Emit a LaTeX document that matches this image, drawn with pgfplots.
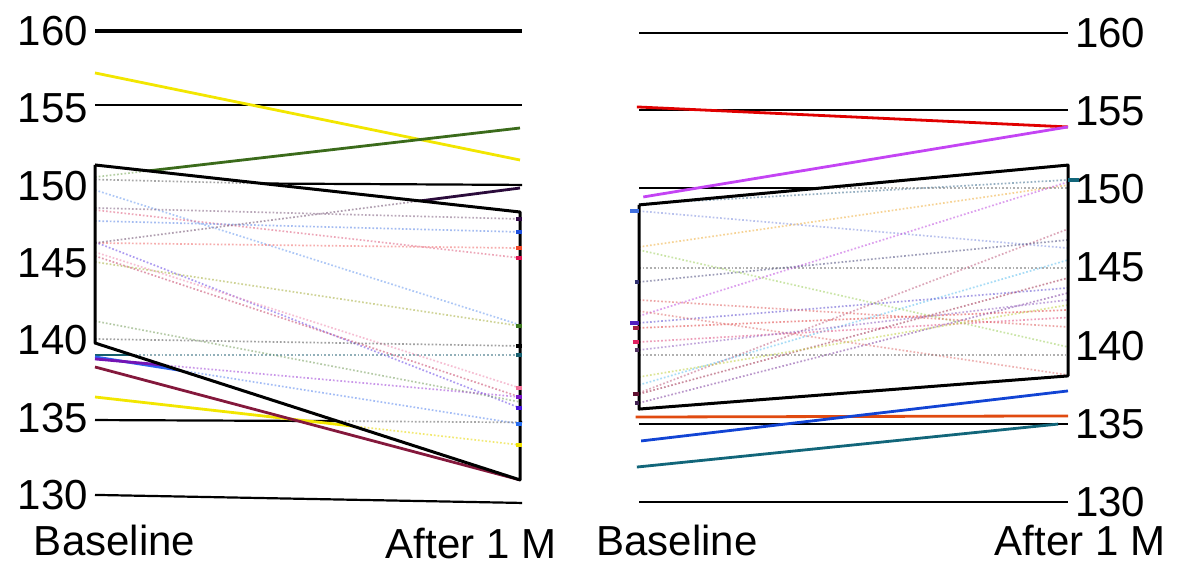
\documentclass[border=0pt]{standalone}
\usepackage{pgfplots}
\pgfplotsset{compat=1.18}
\usepackage{fontspec}
\setmainfont{Liberation Sans}
\begin{document}
\begin{tikzpicture}
\path[use as bounding box] (0,0) rectangle (592.5pt,282pt);
\pgfplotsset{
  panel/.style={scale only axis, clip=false, xmin=-0.05, xmax=1.05, ymin=128, ymax=161,
    axis line style={draw=none}, tick style={draw=none}, major tick length=0pt,
    ytick={130,135,140,145,150,155,160},
    /pgf/number format/assume math mode=true,
    ticklabel style={font=\fontsize{21}{25}\selectfont},
    xticklabel style={anchor=base},
  },
  gl/.style={black, line width=1.1pt},
  sol/.style={line width=1.4pt},
  fd/.style={densely dotted, line width=0.85pt, opacity=0.55},
  em/.style={line width=2pt},
}
% ================= LEFT PANEL =================
\begin{axis}[panel, at={(36.875pt,19pt)}, anchor=south west,
  width=233.75pt, height=255.23pt,
  xtick={0.046,0.885}, xticklabels={Baseline,\raisebox{-1.5pt}{After 1 M}},
  xticklabel style={yshift=-14.5pt},
  yticklabel pos=left, yticklabel style={xshift=10.625pt}]
% grid lines
\addplot[gl, line width=1.6pt] coordinates {(0,160)(1.005,160)};
\addplot[gl] coordinates {(0,155.22)(1.005,155.22)};
\addplot[gl] coordinates {(0,150.20)(1.005,150.05)};
\addplot[gl] coordinates {(0,134.85)(1.005,134.73)};
\addplot[gl] coordinates {(0,130.01)(1.005,129.49)};
% solid series
\addplot[sol, color={rgb,255:red,242;green,230;blue,0}] coordinates {(0,157.29)(1,151.66)};
\addplot[sol, color={rgb,255:red,59;green,107;blue,27}] coordinates {(0,150.56)(1,153.73)};
\addplot[sol, color={rgb,255:red,43;green,11;blue,59}] coordinates {(0,146.30)(1,149.85)};
\addplot[sol, color={rgb,255:red,21;green,94;blue,110}] coordinates {(0,139.06)(1,139.06)};
\addplot[sol, color={rgb,255:red,46;green,98;blue,240}] coordinates {(0,138.93)(1,134.60)};
\addplot[sol, color={rgb,255:red,116;green,20;blue,180}] coordinates {(0,138.80)(1,136.34)};
\addplot[sol, color={rgb,255:red,242;green,230;blue,0}] coordinates {(0,136.34)(1,133.24)};
\addplot[sol, color={rgb,255:red,132;green,24;blue,60}] coordinates {(0,138.28)(1,130.98)};
% box
\addplot[fill=white, draw=none] coordinates {(0,151.34)(1,148.30)(1,130.98)(0,139.83)(0,151.34)};
% faint series inside the box
\addplot[fd, color={rgb,255:red,106;green,154;blue,240}] coordinates {(0,149.72)(1,141.00)};
\addplot[fd, color={rgb,255:red,128;green,96;blue,128}] coordinates {(0,148.56)(1,147.85)};
\addplot[fd, color={rgb,255:red,224;green,96;blue,128}] coordinates {(0,148.43)(1,145.33)};
\addplot[fd, color={rgb,255:red,90;green,134;blue,230}] coordinates {(0,147.72)(1,147.01)};
\addplot[fd, color={rgb,255:red,240;green,106;blue,106}] coordinates {(0,146.30)(1,145.97)};
\addplot[fd, color={rgb,255:red,106;green,74;blue,230}] coordinates {(0,146.36)(1,135.63)};
\addplot[fd, color={rgb,255:red,240;green,140;blue,176}] coordinates {(0,145.71)(1,136.92)};
\addplot[fd, color={rgb,255:red,200;green,70;blue,106}] coordinates {(0,145.46)(1,136.34)};
\addplot[fd, color={rgb,255:red,168;green,176;blue,64}] coordinates {(0,145.07)(1,140.93)};
\addplot[fd, color={rgb,255:red,122;green,160;blue,96}] coordinates {(0,141.25)(1,136.02)};
\addplot[fd, color={rgb,255:red,85;green,85;blue,85}] coordinates {(0,140.09)(1,139.64)};
\addplot[fd, color={rgb,255:red,58;green,112;blue,128}] coordinates {(0.087,139.06)(1,139.06)};
\addplot[fd, color={rgb,255:red,90;green,136;blue,240}] coordinates {(0.199,138.07)(1,134.60)};
\addplot[fd, color={rgb,255:red,160;green,68;blue,216}] coordinates {(0.161,138.40)(1,136.34)};
\addplot[fd, color={rgb,255:red,232;green,216;blue,0}] coordinates {(0.607,134.46)(1,133.24)};
\addplot[fd, color={rgb,255:red,96;green,96;blue,96}] coordinates {(0.570,134.78)(1,134.70)};
\addplot[fd, color={rgb,255:red,120;green,168;blue,88}] coordinates {(0,150.56)(0.1256,150.96)};
\addplot[fd, color={rgb,255:red,112;green,80;blue,112}] coordinates {(0,146.30)(0.765,149.02)};
\addplot[fd, color={rgb,255:red,96;green,96;blue,96}] coordinates {(0,150.40)(0.394,150.14)};
% box border
\addplot[draw=black, line width=1.5pt, line join=round] coordinates {(0,151.34)(1,148.30)(1,130.98)(0,139.83)(0,151.34)};
% end marks
\addplot[em, color={rgb,255:red,50;green,10;blue,70}] coordinates {(0.99,147.85)(1.005,147.85)};
\addplot[em, color={rgb,255:red,30;green,80;blue,220}] coordinates {(0.99,147.01)(1.005,147.01)};
\addplot[em, color={rgb,255:red,240;green,70;blue,40}] coordinates {(0.99,145.97)(1.005,145.97)};
\addplot[em, color={rgb,255:red,220;green,20;blue,80}] coordinates {(0.99,145.33)(1.005,145.33)};
\addplot[em, color={rgb,255:red,60;green,120;blue,30}] coordinates {(0.99,140.93)(1.005,140.93)};
\addplot[em, color=black] coordinates {(0.99,139.64)(1.005,139.64)};
\addplot[em, color={rgb,255:red,21;green,94;blue,110}] coordinates {(0.99,139.06)(1.005,139.06)};
\addplot[em, color={rgb,255:red,240;green,110;blue,150}] coordinates {(0.99,136.92)(1.005,136.92)};
\addplot[em, color={rgb,255:red,120;green,20;blue,200}] coordinates {(0.99,136.34)(1.005,136.34)};
\addplot[em, color={rgb,255:red,70;green,20;blue,220}] coordinates {(0.99,135.63)(1.005,135.63)};
\addplot[em, color={rgb,255:red,40;green,110;blue,240}] coordinates {(0.99,134.60)(1.005,134.60)};
\addplot[em, color={rgb,255:red,240;green,225;blue,0}] coordinates {(0.99,133.24)(1.005,133.24)};
\end{axis}
% ================= RIGHT PANEL =================
\begin{axis}[panel, at={(308.775pt,15.42pt)}, anchor=south west,
  width=235.95pt, height=257.9pt,
  xtick={0.089,1.028}, xticklabels={Baseline,After 1 M},
  xticklabel style={yshift=-11pt},
  yticklabel pos=right, yticklabel style={xshift=-10.725pt}]
% grid lines
\addplot[gl, line width=1.3pt] coordinates {(0,160)(1,160)};
\addplot[gl] coordinates {(0,155.07)(1,155.07)};
\addplot[gl] coordinates {(0,150.08)(1,150.08)};
\addplot[gl] coordinates {(0,134.98)(1,134.98)};
\addplot[gl] coordinates {(0,130.00)(1,130.00)};
% solid series
\addplot[sol, color={rgb,255:red,224;green,0;blue,0}] coordinates {(-0.005,155.27)(1,153.99)};
\addplot[sol, color={rgb,255:red,196;green,68;blue,244}] coordinates {(0.01,149.51)(1,153.99)};
\addplot[sol, color={rgb,255:red,224;green,74;blue,16}] coordinates {(-0.008,135.43)(1,135.50)};
\addplot[sol, color={rgb,255:red,18;green,68;blue,212}] coordinates {(0.005,133.90)(1,137.10)};
\addplot[sol, color={rgb,255:red,18;green,102;blue,122}] coordinates {(-0.005,132.23)(0.977,134.98)};
% box
\addplot[fill=white, draw=none] coordinates {(0,149.00)(1,151.55)(1,138.06)(0,135.94)(0,149.00)};
% faint series
\addplot[fd, color={rgb,255:red,128;green,144;blue,224}] coordinates {(0,148.61)(1,146.24)};
\addplot[fd, color={rgb,255:red,240;green,176;blue,64}] coordinates {(0,146.31)(1,150.27)};
\addplot[fd, color={rgb,255:red,112;green,112;blue,112}] coordinates {(0,144.96)(1,144.96)};
\addplot[fd, color={rgb,255:red,192;green,80;blue,224}] coordinates {(0,141.89)(1,150.47)};
\addplot[fd, color={rgb,255:red,192;green,96;blue,128}] coordinates {(0,136.97)(1,147.46)};
\addplot[fd, color={rgb,255:red,80;green,80;blue,128}] coordinates {(0,144.07)(1,146.76)};
\addplot[fd, color={rgb,255:red,96;green,192;blue,240}] coordinates {(0,137.48)(1,145.48)};
\addplot[fd, color={rgb,255:red,96;green,80;blue,208}] coordinates {(0,141.45)(1,143.69)};
\addplot[fd, color={rgb,255:red,224;green,64;blue,64}] coordinates {(0,141.13)(1,142.28)};
\addplot[fd, color={rgb,255:red,224;green,80;blue,128}] coordinates {(0,140.23)(1,141.80)};
\addplot[fd, color={rgb,255:red,160;green,48;blue,80}] coordinates {(0,136.90)(1,144.33)};
\addplot[fd, color={rgb,255:red,128;green,64;blue,160}] coordinates {(0,136.33)(1,143.37)};
\addplot[fd, color={rgb,255:red,224;green,112;blue,112}] coordinates {(0,142.21)(1,138.12)};
\addplot[fd, color={rgb,255:red,160;green,208;blue,96}] coordinates {(0,146.12)(1,139.91)};
\addplot[fd, color={rgb,255:red,192;green,208;blue,64}] coordinates {(0,137.99)(1,142.60)};
\addplot[fd, color={rgb,255:red,112;green,112;blue,112}] coordinates {(0,139.40)(1,139.40)};
\addplot[fd, color={rgb,255:red,64;green,112;blue,144}] coordinates {(0,149.06)(1,150.60)};
\addplot[fd, color={rgb,255:red,112;green,112;blue,112}] coordinates {(0.424,150.08)(1,150.08)};
\addplot[fd, color={rgb,255:red,144;green,96;blue,192}] coordinates {(0,139.72)(1,142.92)};
\addplot[fd, color={rgb,255:red,224;green,96;blue,96}] coordinates {(0,142.92)(1,141.19)};
% box border
\addplot[draw=black, line width=1.5pt, line join=round] coordinates {(0,149.00)(1,151.55)(1,138.06)(0,135.94)(0,149.00)};
% end marks
\addplot[em, color={rgb,255:red,18;green,102;blue,122}] coordinates {(1,150.60)(1.026,150.60)};
\addplot[em, color={rgb,255:red,64;green,112;blue,224}] coordinates {(-0.02,148.61)(0,148.61)};
\addplot[em, color={rgb,255:red,48;green,48;blue,112}] coordinates {(-0.01,144.07)(0,144.07)};
\addplot[em, color={rgb,255:red,80;green,32;blue,192}] coordinates {(-0.02,141.45)(0,141.45)};
\addplot[em, color={rgb,255:red,160;green,32;blue,64}] coordinates {(-0.015,141.13)(0,141.13)};
\addplot[em, color={rgb,255:red,224;green,32;blue,96}] coordinates {(-0.015,140.23)(0,140.23)};
\addplot[em, color={rgb,255:red,80;green,48;blue,96}] coordinates {(-0.01,139.72)(0,139.72)};
\addplot[em, color={rgb,255:red,96;green,16;blue,48}] coordinates {(-0.015,136.90)(0,136.90)};
\addplot[em, color={rgb,255:red,64;green,32;blue,80}] coordinates {(-0.01,136.33)(0,136.33)};
\end{axis}
\end{tikzpicture}
\end{document}
